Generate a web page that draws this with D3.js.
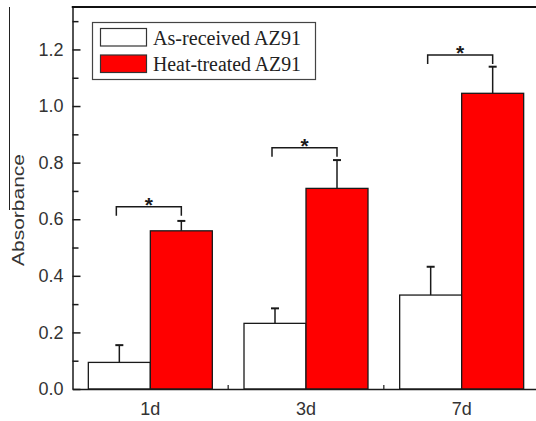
<!DOCTYPE html>
<html>
<head>
<meta charset="utf-8">
<script src="https://cdn.jsdelivr.net/npm/d3@7"></script>
<style>
  html, body { margin: 0; padding: 0; background: #fff; }
  svg { display: block; }
</style>
</head>
<body>
<svg id="chart" width="536" height="421"></svg>
<script>
// ---- data ----
const categories = ["1d", "3d", "7d"];
const seriesNames = ["As-received AZ91", "Heat-treated AZ91"];
const asReceived = [0.094, 0.232, 0.332];
const asReceivedErr = [0.061, 0.053, 0.100];
const heatTreated = [0.559, 0.709, 1.045];
const heatTreatedErr = [0.035, 0.100, 0.094];
const sigLevel = [0.644, 0.853, 1.18];
const yTicks = [0.0, 0.2, 0.4, 0.6, 0.8, 1.0, 1.2];
const yMinorTicks = [0.1, 0.3, 0.5, 0.7, 0.9, 1.1, 1.3];
const yLabel = "Absorbance";

const seriesValues = [asReceived, heatTreated];
const seriesErrs = [asReceivedErr, heatTreatedErr];
const seriesFill = ["#ffffff", "#ff0000"];

// ---- layout ----
const svg = d3.select("#chart");
const pLeft = 72.5, pRight = 539.5, pTop = 7, pBottom = 389;

const x = d3.scaleBand().domain(categories).range([pLeft, pRight]).padding(0);
const bw = x.bandwidth();
const barW = 62;
const x1 = d3.scaleBand().domain(seriesNames).range([bw / 2 - barW, bw / 2 + barW]).padding(0);
const y = d3.scaleLinear().domain([0, 1.35]).range([pBottom, pTop]);

// artifact line at far left (scan border)
svg.append("line").attr("x1", 9.5).attr("x2", 9.5).attr("y1", pTop).attr("y2", 210)
  .attr("stroke", "#222").attr("stroke-width", 1);

// bars
const rows = [];
categories.forEach((c, i) => {
  seriesNames.forEach((s, j) => {
    rows.push({ c, s, j, v: seriesValues[j][i], e: seriesErrs[j][i] });
  });
});

const g = svg.append("g");
g.selectAll("rect.bar").data(rows).join("rect")
  .attr("class", "bar")
  .attr("x", d => x(d.c) + x1(d.s))
  .attr("y", d => y(d.v))
  .attr("width", x1.bandwidth())
  .attr("height", d => y(0) - y(d.v))
  .attr("fill", d => seriesFill[d.j])
  .attr("stroke", "#1a1a1a")
  .attr("stroke-width", 1.3);

// error bars (upper only)
const eb = g.selectAll("g.err").data(rows).join("g").attr("class", "err");
eb.append("line")
  .attr("x1", d => x(d.c) + x1(d.s) + x1.bandwidth() / 2)
  .attr("x2", d => x(d.c) + x1(d.s) + x1.bandwidth() / 2)
  .attr("y1", d => y(d.v))
  .attr("y2", d => y(d.v + d.e))
  .attr("stroke", "#1a1a1a").attr("stroke-width", 1.5);
eb.append("line")
  .attr("x1", d => x(d.c) + x1(d.s) + x1.bandwidth() / 2 - 4)
  .attr("x2", d => x(d.c) + x1(d.s) + x1.bandwidth() / 2 + 4)
  .attr("y1", d => y(d.v + d.e))
  .attr("y2", d => y(d.v + d.e))
  .attr("stroke", "#1a1a1a").attr("stroke-width", 2);

// significance brackets
categories.forEach((c, i) => {
  const xa = x(c) + x1(seriesNames[0]) + x1.bandwidth() / 2 - 3;
  const xb = x(c) + x1(seriesNames[1]) + x1.bandwidth() / 2;
  const yy = y(sigLevel[i]);
  svg.append("path")
    .attr("d", `M${xa},${yy + 9}V${yy}H${xb}V${yy + 9}`)
    .attr("fill", "none").attr("stroke", "#1a1a1a").attr("stroke-width", 1.5);
  svg.append("text")
    .attr("x", (xa + xb) / 2).attr("y", yy + 5)
    .attr("text-anchor", "middle")
    .attr("font-family", "Liberation Sans, Arial, sans-serif")
    .attr("font-size", 21).attr("font-weight", "bold")
    .attr("fill", "#1a1a1a")
    .text("*");
});

// y axis (major, inward ticks)
const yAxis = d3.axisLeft(y).tickValues(yTicks).tickFormat(d3.format(".1f"))
  .tickSizeInner(-8).tickSizeOuter(0).tickPadding(9);
const ya = svg.append("g").attr("transform", `translate(${pLeft},0)`).call(yAxis);
ya.select(".domain").attr("stroke", "#1a1a1a").attr("stroke-width", 1.5);
ya.selectAll(".tick line").attr("stroke", "#1a1a1a").attr("stroke-width", 1.5);
ya.selectAll(".tick text")
  .attr("font-family", "Liberation Sans, Arial, sans-serif")
  .attr("font-size", 18).attr("fill", "#333");

// minor ticks
const yMinor = d3.axisLeft(y).tickValues(yMinorTicks).tickFormat("")
  .tickSizeInner(-6).tickSizeOuter(0);
const ym = svg.append("g").attr("transform", `translate(${pLeft},0)`).call(yMinor);
ym.select(".domain").remove();
ym.selectAll(".tick line").attr("stroke", "#1a1a1a").attr("stroke-width", 1.5);

// x axis
const xAxis = d3.axisBottom(x).tickSizeInner(0).tickSizeOuter(0).tickPadding(13);
const xa = svg.append("g").attr("transform", `translate(0,${pBottom})`).call(xAxis);
xa.select(".domain").attr("stroke", "#1a1a1a").attr("stroke-width", 1.5);
xa.selectAll(".tick text")
  .attr("font-family", "Liberation Sans, Arial, sans-serif")
  .attr("font-size", 18).attr("fill", "#333");

// small boundary ticks between categories
svg.selectAll("line.bt").data(categories.slice(1)).join("line")
  .attr("class", "bt")
  .attr("x1", d => x(d)).attr("x2", d => x(d))
  .attr("y1", pBottom).attr("y2", pBottom - 4)
  .attr("stroke", "#1a1a1a").attr("stroke-width", 1.2);

// top frame line
svg.append("line").attr("x1", pLeft - 0.75).attr("x2", 536).attr("y1", pTop).attr("y2", pTop)
  .attr("stroke", "#111").attr("stroke-width", 2);

// y label
svg.append("text")
  .attr("transform", `translate(24,210) rotate(-90)`)
  .attr("text-anchor", "middle")
  .attr("font-family", "Liberation Sans, Arial, sans-serif")
  .attr("font-size", 16)
  .attr("textLength", 112).attr("lengthAdjust", "spacingAndGlyphs")
  .attr("fill", "#333")
  .text(yLabel);

// legend
const lg = svg.append("g");
lg.append("rect").attr("x", 92.5).attr("y", 22.5).attr("width", 223).attr("height", 57)
  .attr("fill", "#fff").attr("stroke", "#444").attr("stroke-width", 1.2);
seriesNames.forEach((s, j) => {
  const yy = 28.5 + j * 26.5;
  lg.append("rect").attr("x", 100.5).attr("y", yy).attr("width", 46).attr("height", 17.5)
    .attr("fill", seriesFill[j]).attr("stroke", "#333").attr("stroke-width", 1.2);
  lg.append("text").attr("x", 153).attr("y", yy + 16)
    .attr("font-family", "Liberation Serif, Times New Roman, serif")
    .attr("font-size", 20)
    .attr("textLength", 148).attr("lengthAdjust", "spacingAndGlyphs")
    .attr("fill", "#222")
    .text(s);
});
</script>
</body>
</html>
